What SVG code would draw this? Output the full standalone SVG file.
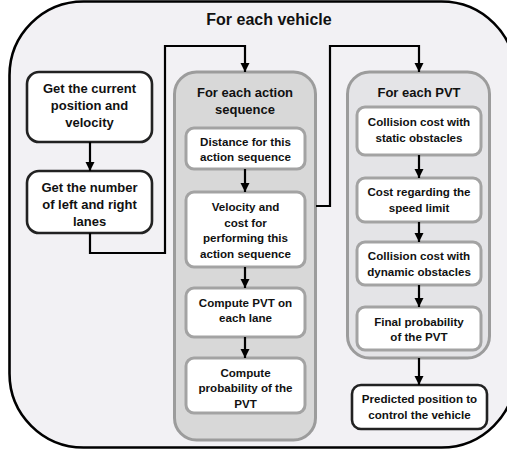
<svg xmlns="http://www.w3.org/2000/svg" width="507" height="454" viewBox="0 0 507 454">
<defs>
<marker id="ah" markerUnits="userSpaceOnUse" markerWidth="10" markerHeight="10" viewBox="0 0 10 10" refX="9" refY="5" orient="auto">
<path d="M0,0.5 L9,5 L0,9.5 Z" fill="#000"/>
</marker>
<style>
text{font-family:"Liberation Sans",Arial,sans-serif;font-weight:bold;fill:#111;text-anchor:middle}
.t13{font-size:13px}
.t12{font-size:11.6px}
.dark{fill:#fff;stroke:#222;stroke-width:2.6}
.cont{stroke:#9c9c9c;stroke-width:3}
.inner{fill:#fff;stroke:#a3a3a3;stroke-width:3}
.conn{fill:none;stroke:#000;stroke-width:2.2}
</style>
</defs>
<rect x="0" y="0" width="507" height="454" fill="#fff"/>
<g id="vehicle">
<rect x="9.5" y="1.5" width="506" height="446" rx="74" ry="74" fill="#f2f1f4" stroke="#000" stroke-width="2.6"/>
<text class="t13" x="269" y="25" style="font-size:16px">For each vehicle</text>
</g>
<g id="get-position">
<rect class="dark" x="27" y="72" width="125" height="70" rx="12"/>
<text class="t13" x="89.5" y="92.5">Get the current</text>
<text class="t13" x="89.5" y="109.5">position and</text>
<text class="t13" x="89.5" y="126.5">velocity</text>
</g>
<g id="get-lanes">
<rect class="dark" x="27" y="171" width="125" height="62" rx="12"/>
<text class="t13" x="89.5" y="192">Get the number</text>
<text class="t13" x="89.5" y="209">of left and right</text>
<text class="t13" x="89.5" y="226">lanes</text>
</g>
<g id="action-sequence">
<rect class="cont" x="174.5" y="72" width="141" height="368" rx="22" fill="#d8d8d8"/>
<text class="t13" x="245" y="96.5">For each action</text>
<text class="t13" x="245" y="113.5">sequence</text>
</g>
<g id="distance">
<rect class="inner" x="186" y="128" width="119" height="41" rx="8"/>
<text class="t12" x="245.5" y="146">Distance for this</text>
<text class="t12" x="245.5" y="161">action sequence</text>
</g>
<g id="velocity-cost">
<rect class="inner" x="186" y="192" width="119" height="75" rx="8"/>
<text class="t12" x="245.5" y="211">Velocity and</text>
<text class="t12" x="245.5" y="226.5">cost for</text>
<text class="t12" x="245.5" y="242">performing this</text>
<text class="t12" x="245.5" y="257.5">action sequence</text>
</g>
<g id="compute-pvt">
<rect class="inner" x="186" y="288" width="119" height="49" rx="8"/>
<text class="t12" x="245.5" y="306.5">Compute PVT on</text>
<text class="t12" x="245.5" y="322">each lane</text>
</g>
<g id="compute-probability">
<rect class="inner" x="186" y="358" width="119" height="55" rx="8"/>
<text class="t12" x="245.5" y="376.5">Compute</text>
<text class="t12" x="245.5" y="392">probability of the</text>
<text class="t12" x="245.5" y="407.5">PVT</text>
</g>
<g id="each-pvt">
<rect class="cont" x="347.5" y="72" width="142" height="286" rx="22" fill="#e4e4e7"/>
<text class="t13" x="419" y="96.5">For each PVT</text>
</g>
<g id="static-cost">
<rect class="inner" x="357" y="107" width="124" height="48" rx="8"/>
<text class="t12" x="419" y="126">Collision cost with</text>
<text class="t12" x="419" y="141.5">static obstacles</text>
</g>
<g id="speed-cost">
<rect class="inner" x="357" y="178" width="124" height="44" rx="8"/>
<text class="t12" x="419" y="196">Cost regarding the</text>
<text class="t12" x="419" y="211.5">speed limit</text>
</g>
<g id="dynamic-cost">
<rect class="inner" x="357" y="242" width="124" height="43" rx="8"/>
<text class="t12" x="419" y="260">Collision cost with</text>
<text class="t12" x="419" y="275.5">dynamic obstacles</text>
</g>
<g id="final-probability">
<rect class="inner" x="357" y="307" width="124" height="43" rx="8"/>
<text class="t12" x="419" y="325.5">Final probability</text>
<text class="t12" x="419" y="341">of the PVT</text>
</g>
<g id="predicted-position">
<rect class="dark" x="352" y="385" width="135" height="44" rx="9"/>
<text class="t12" x="419.5" y="403">Predicted position to</text>
<text class="t12" x="419.5" y="418.5">control the vehicle</text>
</g>
<g id="connectors">
<path class="conn" d="M90,142 V171" marker-end="url(#ah)"/>
<path class="conn" d="M90,233 V253 H165 V46 H245 V72" marker-end="url(#ah)"/>
<path class="conn" d="M316,206 H330 V46 H419 V72" marker-end="url(#ah)"/>
<path class="conn" d="M245,169 V192" marker-end="url(#ah)"/>
<path class="conn" d="M245,267 V288" marker-end="url(#ah)"/>
<path class="conn" d="M245,337 V358" marker-end="url(#ah)"/>
<path class="conn" d="M419,155 V178" marker-end="url(#ah)"/>
<path class="conn" d="M419,222 V242" marker-end="url(#ah)"/>
<path class="conn" d="M419,285 V307" marker-end="url(#ah)"/>
<path class="conn" d="M419,358 V385" marker-end="url(#ah)"/>
</g>
</svg>
